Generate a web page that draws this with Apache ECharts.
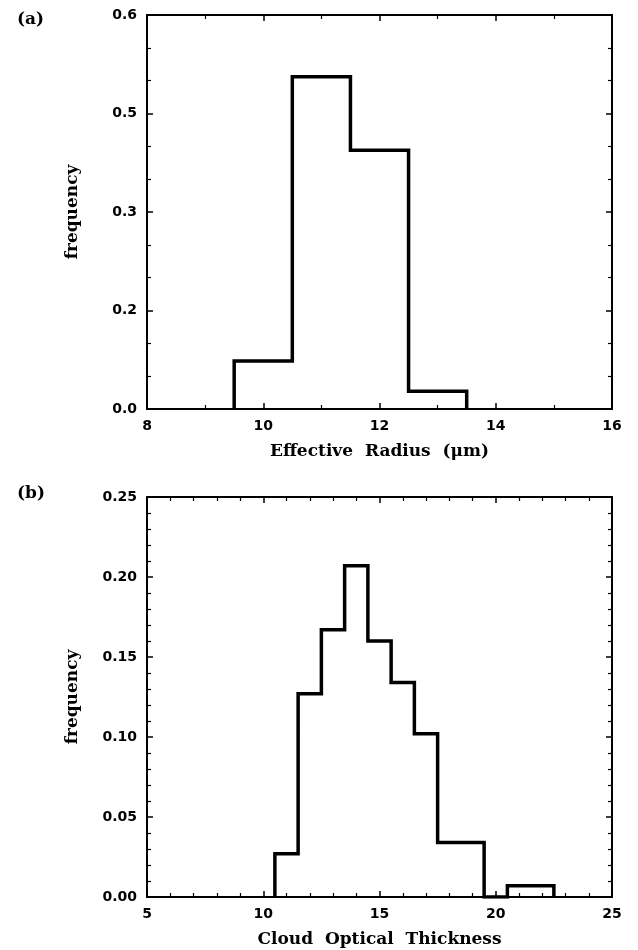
<!DOCTYPE html>
<html>
<head>
<meta charset="utf-8">
<style>
  html, body { margin: 0; padding: 0; background: #fff; }
  #chart { width: 638px; height: 950px; }
</style>
<script src="https://cdn.jsdelivr.net/npm/echarts@6/dist/echarts.min.js"></script>
</head>
<body>
<div id="chart"></div>
<script>
// (a) effective radius histogram: bin centres (µm) and frequencies
var radiusBins = [10, 11, 12, 13];
var radiusFreq = [0.073, 0.506, 0.394, 0.027];
var radiusTicks = [8, 10, 12, 14, 16];
// left-axis labels for ticks at 0, 0.15, 0.30, 0.45, 0.60 (printed with one decimal)
var radiusFreqTickLabels = ['0.0', '0.2', '0.3', '0.5', '0.6'];

// (b) cloud optical thickness histogram: bin centres and frequencies
var tauBins = [11, 12, 13, 14, 15, 16, 17, 18, 19, 20, 21, 22];
var tauFreq = [0.027, 0.127, 0.167, 0.207, 0.160, 0.134, 0.102, 0.034, 0.034, 0.000, 0.007, 0.007];
var tauTicks = [5, 10, 15, 20, 25];
var tauFreqTickLabels = ['0.00', '0.05', '0.10', '0.15', '0.20', '0.25'];

// histogram outline as a step line through the bin edges:
// rise at the first left edge, one level per bin, drop at the last right edge
function outline(bins, freq) {
  var h = (bins[1] - bins[0]) / 2;
  var pts = [[bins[0] - h, 0]];
  for (var i = 0; i < bins.length; i++) pts.push([bins[i] - h, freq[i]]);
  pts.push([bins[bins.length - 1] + h, 0]);
  return pts;
}

var TICK_FONT = '"DejaVu Sans", "Noto Sans", sans-serif';
var TITLE_FONT = '"DejaVu Serif", "Liberation Serif", serif';

function xAxisPair(grid, ticks, minorSplit, name) {
  var base = {
    gridIndex: grid, type: 'value',
    min: ticks[0], max: ticks[ticks.length - 1], interval: ticks[1] - ticks[0],
    splitLine: { show: false },
    axisLine: { show: true, onZero: false, lineStyle: { color: '#000', width: 2 } },
    axisTick: { show: true, inside: true, length: 6, lineStyle: { color: '#000', width: 1.5 } },
    minorTick: { show: true, splitNumber: minorSplit, length: 4, lineStyle: { color: '#000', width: 1.2 } }
  };
  var bottom = Object.assign({}, base, {
    position: 'bottom',
    name: name, nameLocation: 'middle', nameGap: 34,
    nameTextStyle: { fontFamily: TITLE_FONT, fontWeight: 'bold', fontSize: 17, color: '#000' },
    axisLabel: { show: true, margin: 10, fontFamily: TICK_FONT, fontWeight: 'bold', fontSize: 14, color: '#000',
      formatter: function (v) { return String(v); } }
  });
  var top = Object.assign({}, base, { position: 'top', axisLabel: { show: false } });
  return [bottom, top];
}

function yAxisPair(grid, max, interval, minorSplit, labels) {
  var base = {
    gridIndex: grid, type: 'value', min: 0, max: max, interval: interval,
    splitLine: { show: false },
    axisLine: { show: true, onZero: false, lineStyle: { color: '#000', width: 2 } },
    axisTick: { show: true, inside: true, length: 6, lineStyle: { color: '#000', width: 1.5 } },
    minorTick: { show: true, splitNumber: minorSplit, length: 4, lineStyle: { color: '#000', width: 1.2 } }
  };
  var left = Object.assign({}, base, {
    position: 'left',
    name: 'frequency', nameLocation: 'middle', nameGap: 66,
    nameTextStyle: { fontFamily: TITLE_FONT, fontWeight: 'bold', fontSize: 17, color: '#000' },
    axisLabel: { show: true, margin: 10, fontFamily: TICK_FONT, fontWeight: 'bold', fontSize: 14, color: '#000',
      formatter: function (v) { return labels[Math.round(v / interval)]; } }
  });
  var right = Object.assign({}, base, { position: 'right', axisLabel: { show: false } });
  return [left, right];
}

var xa = xAxisPair(0, radiusTicks, 2, 'Effective  Radius  (\u03BCm)');
var xb = xAxisPair(1, tauTicks, 5, 'Cloud  Optical  Thickness');
var ya = yAxisPair(0, 0.6, 0.15, 3, radiusFreqTickLabels);
var yb = yAxisPair(1, 0.25, 0.05, 5, tauFreqTickLabels);

var histLine = { color: '#000', width: 3.5, join: 'miter', cap: 'butt' };

var option = {
  backgroundColor: '#fff',
  animation: false,
  grid: [
    { left: 147, right: 26, top: 15, height: 394 },
    { left: 147, right: 26, top: 497, height: 400 }
  ],
  xAxis: [xa[0], xa[1], xb[0], xb[1]],
  yAxis: [ya[0], ya[1], yb[0], yb[1]],
  graphic: [
    { type: 'text', left: 17, top: 11, style: { text: '(a)', font: 'bold 17px ' + TITLE_FONT, fill: '#000' } },
    { type: 'text', left: 17, top: 485, style: { text: '(b)', font: 'bold 17px ' + TITLE_FONT, fill: '#000' } }
  ],
  series: [
    { type: 'line', xAxisIndex: 0, yAxisIndex: 0, step: 'end', symbol: 'none', silent: true, clip: true,
      lineStyle: histLine, data: outline(radiusBins, radiusFreq) },
    { type: 'line', xAxisIndex: 2, yAxisIndex: 2, step: 'end', symbol: 'none', silent: true, clip: true,
      lineStyle: histLine, data: outline(tauBins, tauFreq) }
  ]
};

echarts.init(document.getElementById('chart'), null, { renderer: 'canvas' }).setOption(option);
</script>
</body>
</html>
